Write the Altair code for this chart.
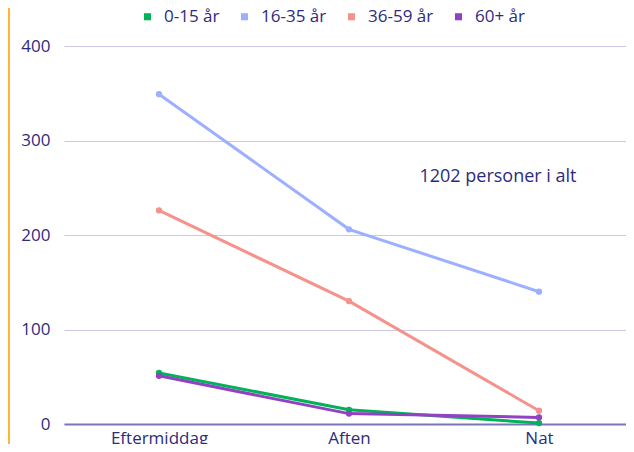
import altair as alt
import pandas as pd

periods = ["Eftermiddag", "Aften", "Nat"]
groups = ["0-15 år", "16-35 år", "36-59 år", "60+ år"]
v_0_15 = [54, 15, 1]
v_16_35 = [349, 206, 140]
v_36_59 = [226, 130, 14]
v_60 = [51, 11, 7]
colors = ["#00b356", "#9cb0ff", "#f5928b", "#9241c4"]
y_ticks = [0, 100, 200, 300, 400]
note = "1202 personer i alt"

rows = []
for g, vals in zip(groups, [v_0_15, v_16_35, v_36_59, v_60]):
    for p, v in zip(periods, vals):
        rows.append({"Periode": p, "Gruppe": g, "Antal": v})
df = pd.DataFrame(rows)

TXT = "#2e2b7e"
FONT = "Open Sans"

x = alt.X("Periode:N", sort=periods,
          scale=alt.Scale(type="point", padding=0.479, align=0.522),
          axis=alt.Axis(title=None, labelAngle=0, ticks=False, grid=False,
                        domainColor="#7a74b8", domainWidth=2,
                        labelFontSize=17, labelColor=TXT, labelFont=FONT, labelPadding=6))
y = alt.Y("Antal:Q", scale=alt.Scale(domain=[0, 400], nice=False),
          axis=alt.Axis(title=None, values=y_ticks, ticks=False, domain=False,
                        gridColor="#cbc9e3", gridWidth=1,
                        labelFontSize=17, labelColor=TXT, labelFont=FONT, labelPadding=14))
color = alt.Color("Gruppe:N", sort=groups, scale=alt.Scale(domain=groups, range=colors),
                  legend=alt.Legend(title=None, orient="none", direction="horizontal",
                                    legendX=75, legendY=-38, symbolType="square",
                                    symbolSize=50, symbolStrokeWidth=0,
                                    labelFontSize=17, labelColor=TXT, labelFont=FONT,
                                    columnPadding=16, labelOffset=8))

lines = alt.Chart(df).mark_line(strokeWidth=3, clip=False).encode(x=x, y=y, color=color)
points = alt.Chart(df).mark_circle(size=40, opacity=1, clip=False).encode(x=x, y=y, color=color)

ann = alt.Chart(pd.DataFrame({"t": [note]})).mark_text(
    fontSize=18, font=FONT, color=TXT, align="center", baseline="middle"
).encode(text="t:N", x=alt.value(434), y=alt.value(131))

edge = alt.Chart(pd.DataFrame({"a": [0]})).mark_rule(color="#ffb733", strokeWidth=2, clip=False).encode(
    x=alt.value(-55), y=alt.value(-46), y2=alt.value(410))

chart = alt.layer(edge, lines, points, ann).properties(
    width=562, height=378,
    autosize=alt.AutoSizeParams(type="none"),
    padding={"left": 56, "top": 38, "right": 0, "bottom": 20},
).configure_view(stroke=None)

chart.save("out.html", embed_options={"renderer": "svg", "actions": False})
